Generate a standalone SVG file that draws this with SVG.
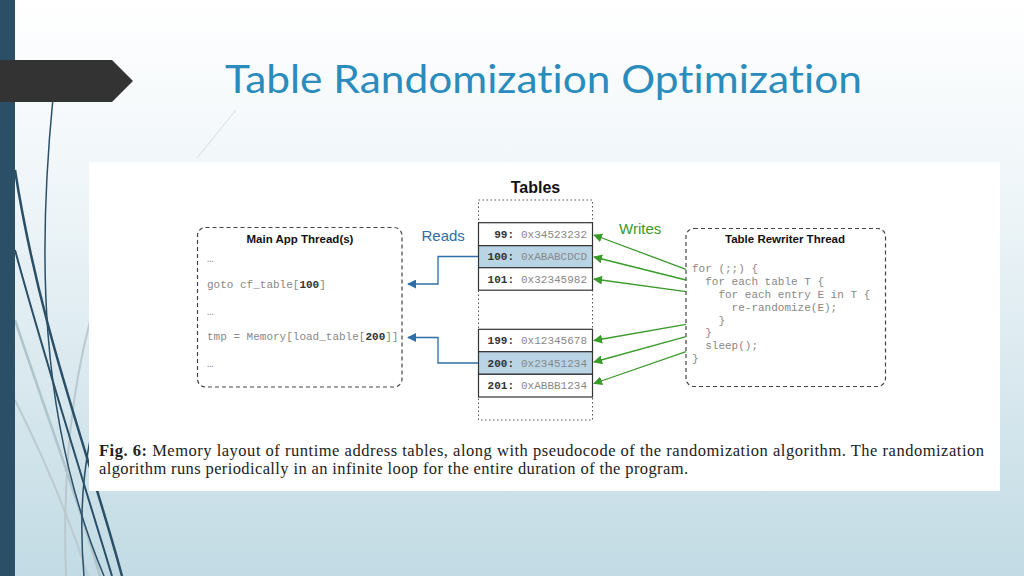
<svg xmlns="http://www.w3.org/2000/svg" width="1024" height="576" viewBox="0 0 1024 576">
<defs>
<linearGradient id="bg" x1="0" y1="0" x2="0" y2="1">
<stop offset="0" stop-color="#ffffff"/>
<stop offset="0.35" stop-color="#eef5f8"/>
<stop offset="1" stop-color="#c2dbe4"/>
</linearGradient>
<marker id="ab" viewBox="0 0 10 10" refX="9" refY="5" markerWidth="9" markerHeight="9" markerUnits="userSpaceOnUse" orient="auto">
<path d="M0,0 L10,5 L0,10 z" fill="#2f6ea6"/>
</marker>
<marker id="ag" viewBox="0 0 10 10" refX="9" refY="5" markerWidth="9" markerHeight="9" markerUnits="userSpaceOnUse" orient="auto">
<path d="M0,0 L10,5 L0,10 z" fill="#3a9a2a"/>
</marker>
<style>
.lbl{font-family:"Liberation Sans",Arial,sans-serif;font-weight:bold;font-size:11.5px;fill:#111}
.big{font-size:16px}
.code{font-family:"Liberation Mono","Courier New",monospace;font-size:11px;fill:#888}
.num{font-family:"Liberation Mono","Courier New",monospace;font-size:11px;font-weight:bold;fill:#333}
.cell{stroke:#333;stroke-width:1.2;fill:#fff}
.hl{fill:#b9d4e4}
.box{fill:none;stroke:#444;stroke-width:1.2;stroke-dasharray:4 3}
.read{fill:none;stroke:#2f6ea6;stroke-width:1.3}
.write{fill:none;stroke:#3a9a2a;stroke-width:1.3}
.cap{font-family:"Liberation Serif","Times New Roman",serif;font-size:16.5px;fill:#222}
</style>
</defs>
<rect width="1024" height="576" fill="url(#bg)"/>
<!-- decorative curves -->
<g fill="none">
<path d="M96 300 C 72 380, 62 470, 66 576" stroke="#b9c9cf" stroke-width="2"/>
<path d="M15 320 C 45 410, 75 490, 100 576" stroke="#b0c4cc" stroke-width="2.5"/>
<path d="M15 400 C 45 460, 70 520, 88 576" stroke="#bccbd1" stroke-width="2"/>
<path d="M53 98 C 38 250, 38 420, 104 576" stroke="#2b4f67" stroke-width="1.5"/>
<path d="M15 170 C 40 330, 88 450, 122 576" stroke="#2b4f67" stroke-width="2.5"/>
<path d="M15 250 C 45 360, 80 470, 112 576" stroke="#2b4f67" stroke-width="2"/>
<path d="M90 440 C 82 480, 80 530, 84 576" stroke="#2b4f67" stroke-width="1.5"/>
<path d="M236 110 L 197 158" stroke="#d5dde0" stroke-width="1"/>
</g>
<rect x="0" y="0" width="15" height="576" fill="#2b4f67"/>
<polygon points="0,60 112,60 133,81 112,102 0,102" fill="#333333"/>
<text x="225" y="93" font-family="Lato,'Open Sans',sans-serif" font-weight="400" font-size="39" fill="#2a8cbd" style="font-variant-ligatures:none" textLength="637" lengthAdjust="spacingAndGlyphs">Table Randomization Optimization</text>
<!-- white panel -->
<rect x="89" y="162" width="911" height="329" fill="#ffffff"/>
<!-- Tables -->
<g id="tables">
<text x="535.5" y="193" class="lbl big" text-anchor="middle">Tables</text>
<rect x="478.5" y="200" width="114" height="220" fill="none" stroke="#555" stroke-width="1" stroke-dasharray="1.5 2.5"/>
<rect x="478.5" y="222.7" width="114" height="23" class="cell"/>
<rect x="478.5" y="245.7" width="114" height="22" class="cell hl"/>
<rect x="478.5" y="267.7" width="114" height="22.5" class="cell"/>
<rect x="478.5" y="329.3" width="114" height="22.4" class="cell"/>
<rect x="478.5" y="351.7" width="114" height="22.6" class="cell hl"/>
<rect x="478.5" y="374.3" width="114" height="22.7" class="cell"/>
<text x="514" y="238" class="num" text-anchor="end">99:</text>
<text x="521" y="238" class="code">0x34523232</text>
<text x="514" y="260" class="num" text-anchor="end">100:</text>
<text x="521" y="260" class="code" fill="#777">0xABABCDCD</text>
<text x="514" y="282.5" class="num" text-anchor="end">101:</text>
<text x="521" y="282.5" class="code">0x32345982</text>
<text x="514" y="344" class="num" text-anchor="end">199:</text>
<text x="521" y="344" class="code">0x12345678</text>
<text x="514" y="366.5" class="num" text-anchor="end">200:</text>
<text x="521" y="366.5" class="code">0x23451234</text>
<text x="514" y="389" class="num" text-anchor="end">201:</text>
<text x="521" y="389" class="code">0xABBB1234</text>
</g>
<!-- Main App Thread -->
<g id="main-thread">
<rect x="197.5" y="227.5" width="204.5" height="159.5" rx="8" class="box"/>
<text x="300" y="243" class="lbl" text-anchor="middle">Main App Thread(s)</text>
<text x="207" y="262" class="code">…</text>
<text x="207" y="288" class="code">goto cf_table[<tspan class="num">100</tspan>]</text>
<text x="207" y="315" class="code">…</text>
<text x="207" y="340" class="code">tmp = Memory[load_table[<tspan class="num">200</tspan>]]</text>
<text x="207" y="367" class="code">…</text>
</g>
<!-- Table Rewriter Thread -->
<g id="rewriter-thread">
<rect x="686" y="228.5" width="199.5" height="158" rx="8" class="box"/>
<text x="785" y="243" class="lbl" text-anchor="middle">Table Rewriter Thread</text>
<text class="code" xml:space="preserve"><tspan x="692" y="272">for (;;) {</tspan><tspan x="692" y="285">  for each table T {</tspan><tspan x="692" y="298">    for each entry E in T {</tspan><tspan x="692" y="311">      re-randomize(E);</tspan><tspan x="692" y="323.5">    }</tspan><tspan x="692" y="336">  }</tspan><tspan x="692" y="349">  sleep();</tspan><tspan x="692" y="361.5">}</tspan></text>
</g>
<!-- connectors -->
<g id="connectors">
<text x="421.5" y="241" font-family="'Liberation Sans',Arial,sans-serif" font-size="15" fill="#2f6ea6">Reads</text>
<text x="619" y="234" font-family="'Liberation Sans',Arial,sans-serif" font-size="15" fill="#3a9a2a">Writes</text>
<path d="M478 256.5 H438 V284 H408" class="read" marker-end="url(#ab)"/>
<path d="M478 363 H438 V337.5 H408" class="read" marker-end="url(#ab)"/>
<path d="M686 269.3 L594 235" class="write" marker-end="url(#ag)"/>
<path d="M686 280 L594 257" class="write" marker-end="url(#ag)"/>
<path d="M686 291.7 L594 279" class="write" marker-end="url(#ag)"/>
<path d="M686 324.3 L594 340.5" class="write" marker-end="url(#ag)"/>
<path d="M686 336.7 L594 362" class="write" marker-end="url(#ag)"/>
<path d="M686 351.7 L594 383.5" class="write" marker-end="url(#ag)"/>
</g>
<!-- caption -->
<text x="99" y="456" class="cap" textLength="885" lengthAdjust="spacing"><tspan font-weight="bold">Fig. 6:</tspan> Memory layout of runtime address tables, along with pseudocode of the randomization algorithm. The randomization</text>
<text x="99" y="473.5" class="cap" textLength="589" lengthAdjust="spacing">algorithm runs periodically in an infinite loop for the entire duration of the program.</text>
</svg>
